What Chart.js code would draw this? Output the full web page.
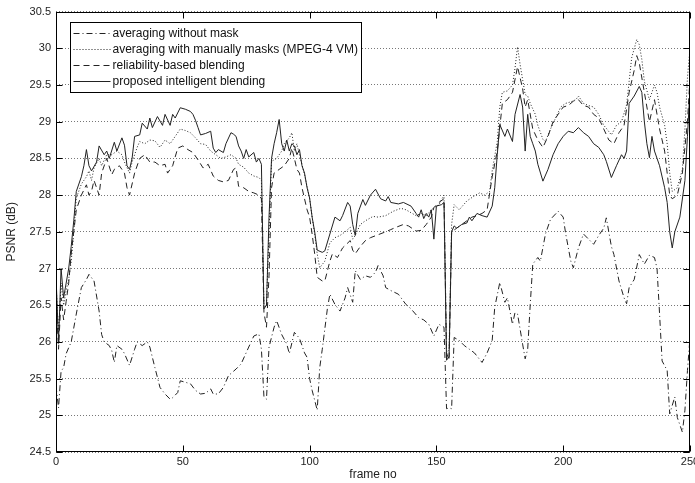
<!DOCTYPE html>
<html>
<head>
<meta charset="utf-8">
<script src="https://cdn.jsdelivr.net/npm/chart.js@4.4.1/dist/chart.umd.min.js"></script>
<style>
  html, body { margin: 0; padding: 0; background: #fff; }
  #wrap { width: 695px; height: 483px; }
</style>
</head>
<body>
<div id="wrap"><canvas id="psnrChart" width="695" height="483"></canvas></div>
<script>
// [frame, PSNR dB]
const noMask = [[0,25.4],[1,25.1],[2,25.6],[3,25.65],[4,25.84],[6,26.0],[8,26.38],[10,26.74],[12,26.85],[13,26.92],[15,26.83],[17,26.42],[18,26.1],[19,26.0],[21,25.95],[22,25.88],[23,25.72],[24,25.95],[26,25.9],[27,25.84],[29,25.68],[31,25.9],[32,26.0],[34,25.95],[36,26.0],[37,25.93],[39,25.65],[41,25.38],[43,25.29],[45,25.22],[46,25.24],[48,25.31],[49,25.47],[51,25.45],[53,25.43],[55,25.34],[57,25.29],[59,25.3],[61,25.36],[62,25.29],[64,25.29],[66,25.38],[68,25.54],[70,25.6],[71,25.63],[73,25.7],[76,25.93],[78,26.08],[80,26.11],[81,25.9],[82,25.25],[83,25.22],[84,25.93],[86,26.2],[87,26.29],[89,26.1],[91,25.97],[92,25.84],[94,26.13],[96,26.05],[98,25.85],[99,25.79],[100,25.5],[101,25.34],[103,25.07],[104,25.65],[105,25.9],[107,26.45],[108,26.65],[110,26.51],[112,26.42],[114,26.6],[115,26.74],[117,26.54],[118,26.97],[120,26.85],[122,26.9],[124,26.88],[126,26.95],[127,27.04],[129,26.9],[130,26.74],[132,26.7],[135,26.65],[138,26.51],[140,26.45],[143,26.33],[145,26.3],[147,26.24],[149,26.08],[151,26.24],[153,26.2],[154,25.09],[155,25.1],[156,25.09],[157,26.06],[159,26.02],[161,25.95],[163,25.9],[165,25.85],[168,25.72],[170,25.85],[172,26.02],[173,26.47],[175,26.81],[177,26.54],[178,26.6],[180,26.24],[181,26.4],[182,26.38],[184,25.97],[185,25.77],[186,25.9],[187,26.51],[188,27.06],[190,27.15],[191,27.1],[193,27.47],[195,27.67],[198,27.78],[200,27.7],[201,27.47],[203,27.1],[204,27.01],[206,27.28],[208,27.47],[210,27.4],[212,27.33],[214,27.45],[216,27.55],[217,27.69],[219,27.3],[220,27.19],[222,26.83],[224,26.6],[225,26.52],[226,26.74],[228,26.85],[230,27.19],[232,27.06],[234,27.18],[236,27.15],[237,27.0],[238,26.38],[239,25.74],[241,25.61],[242,25.02],[244,25.25],[245,24.97],[247,24.77],[248,25.07],[249,25.61],[250,26.06]];

const manualMask = [[0,26.8],[1,26.1],[2,26.8],[3,26.5],[4,26.7],[5,26.85],[6,27.1],[7,27.5],[8,27.96],[10,28.15],[12,28.25],[13,28.33],[14,28.2],[15,28.37],[17,28.5],[18,28.4],[20,28.55],[22,28.55],[24,28.6],[26,28.55],[27,28.45],[29,28.3],[30,28.45],[32,28.65],[33,28.73],[35,28.7],[37,28.75],[39,28.74],[41,28.65],[43,28.75],[45,28.7],[47,28.8],[49,28.9],[51,28.88],[53,28.85],[55,28.78],[57,28.7],[59,28.69],[61,28.6],[63,28.55],[65,28.5],[67,28.52],[69,28.55],[71,28.5],[72,28.42],[74,28.38],[76,28.3],[78,28.26],[80,28.24],[81,28.2],[82,26.47],[83,26.5],[84,27.5],[85,28.46],[87,28.5],[89,28.6],[90,28.7],[92,28.78],[93,28.85],[94,28.6],[95,28.7],[96,28.55],[98,28.28],[100,27.96],[101,27.7],[102,27.47],[103,27.2],[104,27.01],[106,27.1],[108,27.35],[110,27.42],[112,27.45],[114,27.5],[116,27.56],[117,27.4],[118,27.45],[120,27.6],[122,27.65],[125,27.71],[127,27.7],[130,27.72],[133,27.78],[136,27.82],[138,27.8],[140,27.76],[142,27.72],[144,27.75],[146,27.72],[148,27.8],[150,27.85],[151,27.87],[153,28.0],[154,25.84],[155,25.9],[156,27.6],[157,27.87],[159,27.8],[162,27.92],[165,27.99],[167,28.03],[169,28.0],[171,28.05],[172,28.33],[174,28.73],[175,29.2],[176,29.4],[178,29.42],[180,29.5],[181,29.73],[182,30.02],[183,29.78],[185,29.37],[186,29.35],[187,29.25],[189,29.1],[190,28.95],[192,28.76],[193,28.73],[195,28.9],[197,29.05],[199,29.2],[201,29.25],[203,29.27],[205,29.3],[206,29.35],[208,29.25],[210,29.22],[212,29.2],[214,29.1],[216,28.95],[217,28.91],[219,28.82],[221,28.95],[223,29.0],[225,29.23],[226,29.55],[227,29.87],[229,30.12],[230,30.05],[231,29.85],[232,29.55],[234,29.3],[236,29.5],[237,29.4],[238,29.2],[240,28.95],[241,28.7],[242,28.3],[243,28.05],[245,28.1],[247,28.35],[248,28.9],[249,29.6],[250,30.0]];

const reliability = [[0,26.6],[1,25.9],[2,26.6],[3,26.3],[4,26.55],[5,26.8],[6,27.2],[7,27.5],[8,27.8],[10,28.0],[12,28.14],[13,28.0],[14,28.05],[15,28.2],[16,28.1],[17,28.0],[18,28.3],[20,28.5],[22,28.28],[23,28.35],[25,28.4],[27,28.3],[28,28.1],[29,28.0],[31,28.3],[33,28.5],[35,28.55],[37,28.45],[39,28.45],[41,28.4],[43,28.42],[44,28.3],[46,28.4],[48,28.64],[50,28.67],[52,28.62],[54,28.58],[56,28.48],[58,28.37],[60,28.42],[62,28.26],[64,28.2],[66,28.18],[68,28.2],[70,28.35],[71,28.37],[72,28.12],[74,28.1],[76,28.05],[78,28.03],[80,28.0],[81,27.95],[82,26.4],[83,26.2],[84,26.9],[85,28.1],[86,28.3],[88,28.35],[90,28.4],[92,28.5],[93,28.64],[94,28.5],[95,28.35],[96,28.3],[97,28.1],[99,27.8],[100,27.7],[101,27.47],[102,27.2],[103,26.88],[105,26.83],[106,26.83],[108,27.1],[109,27.2],[111,27.15],[113,27.28],[116,27.38],[117,27.25],[118,27.2],[120,27.3],[122,27.38],[124,27.42],[127,27.46],[130,27.5],[132,27.53],[134,27.56],[137,27.6],[139,27.58],[142,27.51],[144,27.52],[146,27.6],[148,27.7],[149,27.83],[151,27.9],[153,27.95],[154,25.85],[155,25.75],[156,27.5],[158,27.55],[160,27.6],[162,27.65],[164,27.7],[166,27.72],[168,27.75],[170,27.8],[172,28.25],[174,28.6],[176,29.25],[178,29.3],[180,29.4],[182,29.75],[184,29.45],[185,29.2],[186,29.3],[188,28.9],[190,28.75],[192,28.65],[194,28.8],[196,29.0],[198,29.1],[200,29.2],[202,29.22],[204,29.28],[206,29.3],[208,29.22],[210,29.2],[212,29.1],[214,29.05],[216,28.9],[218,28.75],[220,28.7],[222,28.85],[224,28.95],[226,29.4],[228,29.7],[229,29.9],[230,29.8],[232,29.4],[234,29.0],[236,29.3],[238,28.9],[240,28.6],[242,28.0],[243,27.95],[245,28.0],[247,28.3],[249,29.0],[250,29.6]];

const proposed = [[0,26.9],[1,26.0],[2,27.0],[3,26.6],[4,26.8],[5,27.0],[6,27.3],[7,27.65],[8,28.05],[10,28.25],[11,28.4],[12,28.62],[13,28.4],[14,28.33],[16,28.45],[17,28.67],[19,28.55],[20,28.6],[21,28.5],[23,28.72],[24,28.6],[26,28.78],[27,28.68],[28,28.4],[29,28.35],[30,28.5],[31,28.8],[33,28.82],[34,28.98],[36,28.9],[37,29.05],[38,28.92],[40,29.07],[42,28.95],[43,29.1],[45,28.95],[46,29.1],[47,29.05],[49,29.19],[51,29.17],[53,29.14],[54,29.1],[55,29.02],[56,28.92],[57,28.82],[59,28.84],[61,28.87],[62,28.64],[63,28.58],[64,28.62],[66,28.58],[67,28.7],[69,28.85],[70,28.83],[71,28.8],[72,28.67],[73,28.6],[74,28.5],[75,28.62],[76,28.52],[78,28.58],[79,28.45],[80,28.5],[81,28.42],[82,26.45],[83,26.5],[84,27.7],[85,28.5],[86,28.7],[87,28.85],[88,29.03],[89,28.7],[90,28.6],[91,28.75],[92,28.6],[93,28.7],[94,28.67],[95,28.55],[96,28.62],[97,28.4],[98,28.3],[99,28.1],[100,27.96],[101,27.7],[102,27.5],[103,27.25],[105,27.22],[106,27.24],[108,27.47],[110,27.7],[112,27.65],[113,27.72],[115,27.9],[116,27.85],[117,27.6],[118,27.45],[119,27.75],[121,27.94],[122,27.86],[124,28.0],[126,28.08],[128,27.95],[130,27.92],[131,27.98],[132,27.9],[135,27.88],[137,27.9],[140,27.85],[142,27.75],[143,27.7],[144,27.8],[145,27.68],[146,27.75],[147,27.7],[148,27.8],[149,27.4],[150,27.85],[152,27.87],[153,27.9],[154,25.75],[155,25.8],[156,27.5],[157,27.58],[158,27.55],[160,27.6],[162,27.62],[163,27.7],[164,27.65],[166,27.75],[168,27.72],[170,27.7],[172,27.85],[173,28.1],[174,28.55],[175,28.96],[177,28.8],[178,28.9],[180,28.73],[181,29.1],[183,29.37],[184,29.2],[185,28.6],[186,29.1],[187,28.8],[188,28.7],[189,28.6],[190,28.42],[192,28.19],[194,28.35],[196,28.55],[198,28.7],[200,28.8],[202,28.87],[204,28.85],[206,28.92],[208,28.85],[210,28.8],[212,28.7],[214,28.65],[216,28.55],[217,28.46],[219,28.24],[221,28.4],[223,28.55],[224,28.5],[225,28.6],[226,29.25],[228,29.35],[230,29.48],[231,29.4],[232,29.0],[233,28.7],[234,28.51],[235,28.8],[236,28.6],[238,28.4],[240,28.1],[241,27.9],[242,27.5],[243,27.28],[244,27.5],[246,27.7],[248,28.2],[249,28.8],[250,29.46]];

const seriesLabels = ['averaging without mask', 'averaging with manually masks (MPEG-4 VM)', 'reliability-based blending', 'proposed intelligent blending'];
const seriesData = [noMask, manualMask, reliability, proposed];
const xTicks = [0, 50, 100, 150, 200, 250];

const lineColor = '#222';
const dashes = [[6, 3, 1, 3], [1, 2], [6, 4], []];
const font = { family: "'Liberation Sans', Arial, sans-serif", size: 11 };

// inner tick marks, axes box and the in-plot legend (MATLAB style)
const axesBox = {
  id: 'axesBox',
  afterDatasetsDraw(chart) {
    const { ctx, chartArea: a, scales } = chart;
    const L = Math.round(a.left) + 0.5, R = Math.round(a.right) - 0.5;
    const T = Math.round(a.top) + 0.5, B = Math.round(a.bottom) - 0.5;
    ctx.save();
    ctx.strokeStyle = '#000';
    ctx.lineWidth = 1;
    ctx.setLineDash([]);
    ctx.beginPath();
    xTicks.forEach(v => {
      const x = Math.round(scales.x.getPixelForValue(v)) + 0.5;
      ctx.moveTo(x, B); ctx.lineTo(x, B - 6);
      ctx.moveTo(x, T); ctx.lineTo(x, T + 6);
    });
    scales.y.ticks.forEach(t => {
      const y = Math.round(scales.y.getPixelForValue(t.value)) + 0.5;
      ctx.moveTo(L, y); ctx.lineTo(L + 6, y);
      ctx.moveTo(R, y); ctx.lineTo(R - 6, y);
    });
    ctx.stroke();
    ctx.strokeRect(L, T, R - L, B - T);

    // legend
    const lx = 70.5, ly = 22.5, lw = 291, lh = 70;
    ctx.fillStyle = '#fff';
    ctx.fillRect(lx, ly, lw, lh);
    ctx.strokeRect(lx, ly, lw, lh);
    ctx.font = "12px 'Liberation Sans', Arial, sans-serif";
    ctx.textBaseline = 'middle';
    seriesLabels.forEach((lab, i) => {
      const y = Math.round(ly + 10 + i * 16.3) + 0.5;
      ctx.strokeStyle = lineColor;
      ctx.setLineDash(dashes[i]);
      ctx.beginPath();
      ctx.moveTo(lx + 3, y); ctx.lineTo(lx + 40, y);
      ctx.stroke();
      ctx.fillStyle = '#111';
      ctx.fillText(lab, lx + 42, y);
    });
    ctx.restore();
  }
};

new Chart(document.getElementById('psnrChart'), {
  type: 'line',
  data: {
    datasets: seriesData.map((pts, i) => ({
      label: seriesLabels[i],
      data: pts.map(p => ({ x: p[0], y: p[1] })),
      borderColor: lineColor,
      borderWidth: 1,
      borderDash: dashes[i],
      pointRadius: 0,
      tension: 0,
      fill: false
    }))
  },
  options: {
    responsive: false,
    animation: false,
    layout: { padding: { left: 0, right: 5, top: 10, bottom: 0 } },
    plugins: { legend: { display: false }, tooltip: { enabled: false } },
    scales: {
      x: {
        type: 'linear', min: 0, max: 250,
        afterBuildTicks: s => { s.ticks = xTicks.map(v => ({ value: v })); },
        afterFit: s => { s.height = 31; s.paddingLeft = 0; s.paddingRight = 0; },
        grid: { display: false, drawTicks: false },
        border: { display: false },
        ticks: { font, color: '#222', padding: 3, maxRotation: 0 },
        title: { display: true, text: 'frame no', font: { family: font.family, size: 12 }, color: '#222', padding: { top: 0, bottom: 1 } }
      },
      y: {
        min: 24.5, max: 30.5,
        afterFit: s => { s.width = 56; },
        grid: { color: '#777', borderDash: [1, 2], drawTicks: false },
        border: { display: false, dash: [1, 2] },
        ticks: { font, color: '#222', padding: 5, stepSize: 0.5, callback: v => String(+v.toFixed(1)) },
        title: { display: true, text: 'PSNR (dB)', font: { family: font.family, size: 12 }, color: '#222', padding: { top: 4, bottom: 0 } }
      }
    }
  },
  plugins: [axesBox]
});
</script>
</body>
</html>
